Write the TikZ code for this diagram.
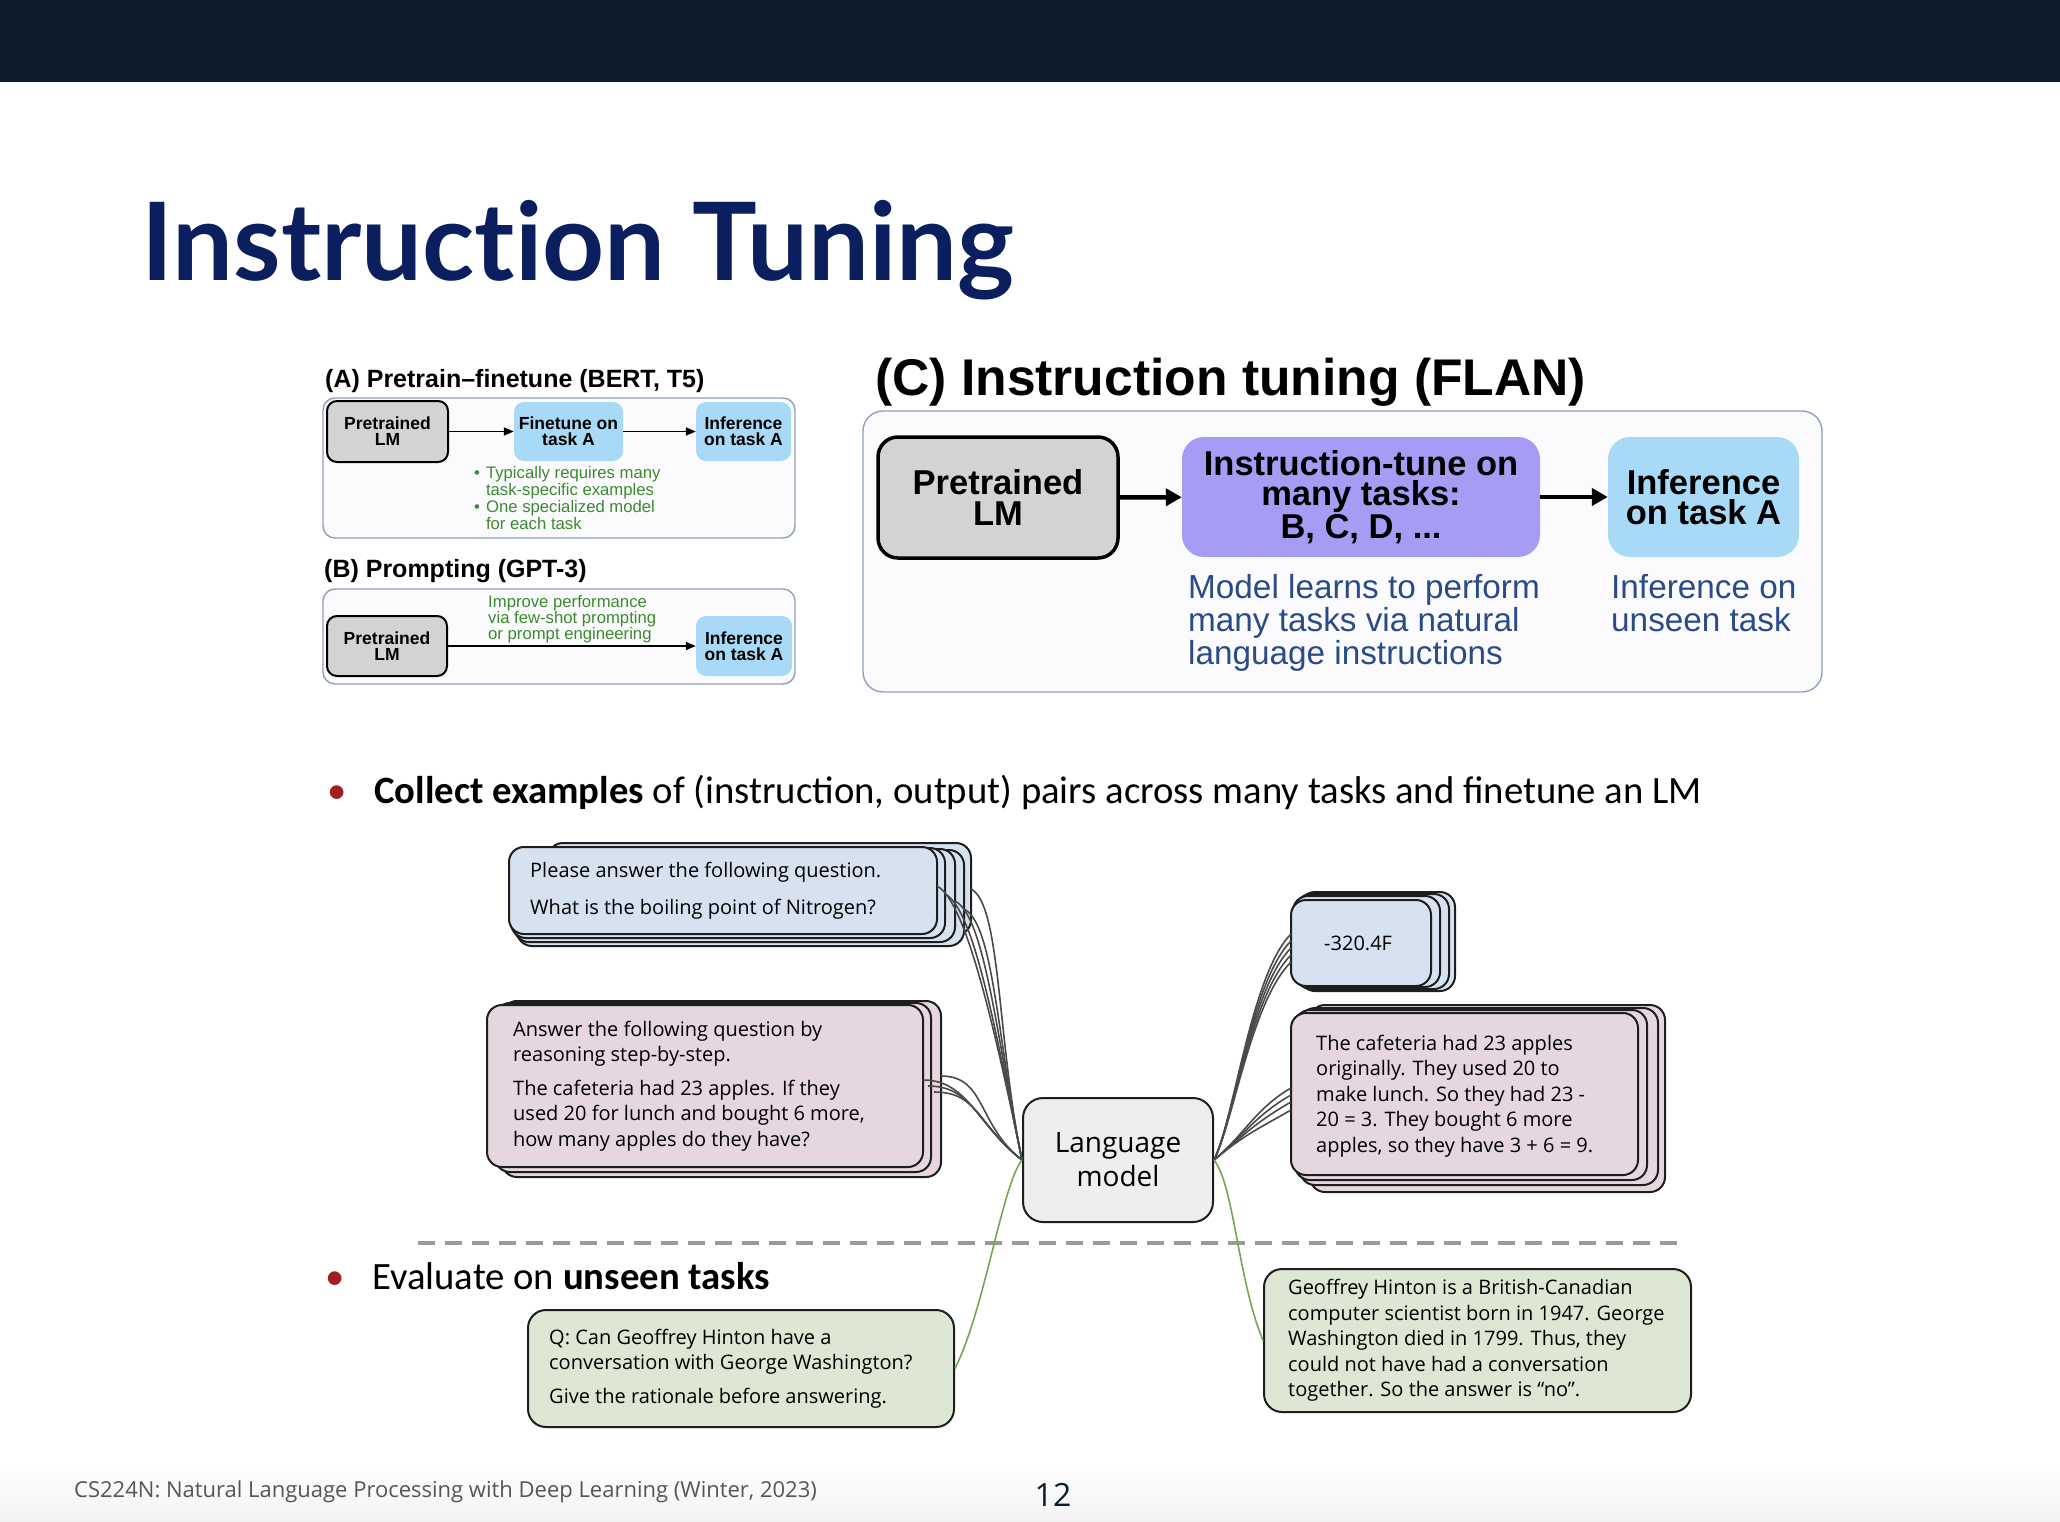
\documentclass[tikz,border=0pt]{standalone}
\usepackage{fontspec}
\usepackage{graphicx}
\setmainfont{Liberation Sans}
\newfontfamily\calib{Carlito}
\newfontfamily\exfont{Open Sans}
\newfontfamily\ttlfont[Ligatures=NoCommon]{Lato}
\usetikzlibrary{arrows.meta,calc}
\definecolor{hdr}{HTML}{0D1C2D}
\definecolor{titleblue}{HTML}{0B1F5E}
\definecolor{panelborder}{HTML}{8FA0BE}
\definecolor{panelfill}{HTML}{FBFBFE}
\definecolor{lmgray}{HTML}{D3D3D3}
\definecolor{taskblue}{HTML}{A8D9F6}
\definecolor{tunepurple}{HTML}{A79CF3}
\definecolor{noteblue}{HTML}{2A4B88}
\definecolor{notegreen}{HTML}{3B8A2E}
\definecolor{bulletred}{HTML}{A11F20}
\definecolor{inblue}{HTML}{D7E2F1}
\definecolor{inpink}{HTML}{E5D6DF}
\definecolor{ingreen}{HTML}{DEE7D4}
\definecolor{lmfill}{HTML}{EEEEEE}
\definecolor{wiregray}{HTML}{4A4A4A}
\definecolor{wiregreen}{HTML}{72A857}
\definecolor{dashgray}{HTML}{9A9A9A}
\definecolor{footgray}{HTML}{555555}
\definecolor{exborder}{HTML}{1E1E1E}
\begin{document}
\begin{tikzpicture}[x=1pt,y=-1pt,
  panel/.style={draw=panelborder, fill=panelfill, line width=1.4pt, rounded corners=12pt},
  smallgray/.style={draw=black, fill=lmgray, line width=2pt, rounded corners=10pt, inner sep=0pt, align=center, font=\bfseries\fontsize{17.5}{16}\selectfont},
  smallblue/.style={fill=taskblue, rounded corners=10pt, inner sep=0pt, align=center, font=\bfseries\fontsize{17.5}{16}\selectfont},
  biggray/.style={draw=black, fill=lmgray, line width=3.5pt, rounded corners=20pt, inner sep=0pt, align=center, font=\bfseries\fontsize{34.5}{30.5}\selectfont},
  bigfill/.style={rounded corners=22pt, inner sep=0pt, align=center, font=\bfseries\fontsize{34.5}{30.5}\selectfont},
  thinarrow/.style={-{Triangle[length=10pt,width=8pt]}, line width=1.8pt},
  thickarrow/.style={-{Triangle[length=16pt,width=17pt]}, line width=4.5pt},
  exbox/.style={draw=exborder, line width=2pt, rounded corners=15pt, inner sep=0pt},
  layer/.style={draw=exborder, line width=2pt, rounded corners=15pt},
  extext/.style={inner sep=0pt, align=left, font=\exfont\fontsize{20}{25.5}\selectfont},
  wire/.style={draw=wiregray, line width=1.6pt},
  greenwire/.style={draw=wiregreen, line width=1.6pt},
  headA/.style={inner sep=0pt, anchor=base west, font=\bfseries\fontsize{25}{30}\selectfont},
  greennote/.style={inner sep=0pt, anchor=north west, text=notegreen, align=left, font=\fontsize{16.7}{16}\selectfont},
  bluenote/.style={inner sep=0pt, anchor=north west, text=noteblue, align=left, font=\fontsize{33.3}{33}\selectfont},
  calibtext/.style={inner sep=0pt, anchor=base west, font=\calib\fontsize{38.7}{46}\selectfont},
  reddot/.style={inner sep=0pt, anchor=base, text=bulletred, font=\calib\fontsize{38.7}{46}\selectfont}
]
\useasboundingbox (0,0) rectangle (2060,1522);
\fill[white] (0,0) rectangle (2060,1522);
\shade[top color=white, bottom color=black!5] (0,1465) rectangle (2060,1522);
% header bar
\fill[hdr] (0,0) rectangle (2060,82);
% title
\node[inner sep=0pt, anchor=base west, text=titleblue] (title) at (141,280)
  {\resizebox{873pt}{!}{\ttlfont\bfseries Instruction Tuning}};

% ---------- Panel A ----------
\node[headA] (headA) at (325,387) {(A) Pretrain–finetune (BERT, T5)};
\draw[panel] (323,398) rectangle (795,538);
\node[smallgray, minimum width=121pt, minimum height=61pt] (preA) at (387.5,431.5) {Pretrained\\LM};
\node[smallblue, minimum width=109pt, minimum height=59pt] (ftA) at (568.5,431.5) {Finetune on\\task A};
\node[smallblue, minimum width=95pt, minimum height=59pt] (infA) at (743.5,431.5) {Inference\\on task A};
\draw[thinarrow] (preA) -- (ftA);
\draw[thinarrow] (ftA) -- (infA);
\node[greennote] (noteA) at (474,466) {%
  \begin{tabular}{@{}l@{\hspace{6pt}}l@{}}
  \textbullet & Typically requires many\\
   & task-specific examples\\
  \textbullet & One specialized model\\
   & for each task
  \end{tabular}};

% ---------- Panel B ----------
\node[headA] (headB) at (324,577) {(B) Prompting (GPT-3)};
\draw[panel] (323,589) rectangle (795,684);
\node[smallgray, minimum width=120pt, minimum height=60pt] (preB) at (387,646) {Pretrained\\LM};
\node[smallblue, minimum width=96pt, minimum height=60pt] (infB) at (744,646) {Inference\\on task A};
\draw[thinarrow] (preB) -- (infB);
\node[greennote] (noteB) at (488,595) {Improve performance\\via few-shot prompting\\or prompt engineering};

% ---------- Panel C ----------
\node[inner sep=0pt, anchor=base west, font=\bfseries\fontsize{51.6}{60}\selectfont] (headC) at (875,395) {(C) Instruction tuning (FLAN)};
\draw[panel, rounded corners=20pt] (863,411) rectangle (1822,692);
\node[biggray, minimum width=240pt, minimum height=121pt] (preC) at (998,497.5) {Pretrained\\LM};
\node[bigfill, fill=tunepurple, minimum width=358pt, minimum height=120pt] (tuneC) at (1361,497) {Instruction-tune on\\many tasks:\\B, C, D, ...};
\node[bigfill, fill=taskblue, minimum width=191pt, minimum height=120pt] (infC) at (1703.5,497) {Inference\\on task A};
\draw[thickarrow] (preC) -- (tuneC);
\draw[thickarrow] (tuneC) -- (infC);
\node[bluenote] (noteC1) at (1188,574) {Model learns to perform\\many tasks via natural\\language instructions};
\node[bluenote] (noteC2) at (1611,574) {Inference on\\unseen task};

% ---------- bullets ----------
\node[reddot] (dot1) at (337,803) {•};
\node[calibtext] (bullet1) at (374,803) {\textbf{Collect examples} of (instruction, output) pairs across many tasks and finetune an LM};
\node[reddot] (dot2) at (335,1289) {•};
\node[calibtext] (bullet2) at (372,1289) {Evaluate on \textbf{unseen tasks}};

% dashed separator
\coordinate (dl) at (418,1243);
\coordinate (dr) at (1686,1243);
\draw[dashgray, line width=4pt, dash pattern=on 17pt off 10pt] (dl) -- (dr);

% ---------- stacks: blue input ----------
\draw[layer, fill=inblue] (548,843) rectangle (971,935);
\draw[layer, fill=inblue] (517,850) rectangle (964,946);
\draw[layer, fill=inblue] (514,849) rectangle (955,942);
\draw[layer, fill=inblue] (511,848) rectangle (945,938);
\node[exbox, fill=inblue, minimum width=428pt, minimum height=87pt] (qa) at (723,890.5) {};
\node[extext, anchor=west] (qatext) at ($(qa.west)+(22,0)$) {Please answer the following question.\\[11pt]What is the boiling point of Nitrogen?};

% pink input
\draw[layer, fill=inpink] (502,1001) rectangle (941,1177);
\draw[layer, fill=inpink] (495,1003) rectangle (931,1172);
\node[exbox, fill=inpink, minimum width=436pt, minimum height=162pt] (qb) at (705,1086) {};
\node[extext, anchor=west] (qbtext) at ($(qb.west)+(27,0)$) {Answer the following question by\\reasoning step-by-step.\\[8pt]The cafeteria had 23 apples. If they\\used 20 for lunch and bought 6 more,\\how many apples do they have?};

% blue output
\draw[layer, fill=inblue] (1300,892) rectangle (1455,991);
\draw[layer, fill=inblue] (1296,894) rectangle (1449,989);
\draw[layer, fill=inblue] (1293,896) rectangle (1440,987);
\node[exbox, fill=inblue, minimum width=140pt, minimum height=86pt] (oa) at (1361,943) {};
\node[extext, anchor=west] (oatext) at ($(oa.west)+(34,0)$) {-320.4F};

% pink output
\draw[layer, fill=inpink] (1310,1005) rectangle (1665,1192);
\draw[layer, fill=inpink] (1300,1008) rectangle (1658,1185);
\draw[layer, fill=inpink] (1295,1010) rectangle (1647,1180);
\node[exbox, fill=inpink, minimum width=347pt, minimum height=162pt] (ob) at (1464.5,1094) {};
\node[extext, anchor=west] (obtext) at ($(ob.west)+(26,2)$) {The cafeteria had 23 apples\\originally. They used 20 to\\make lunch. So they had 23 -\\20 = 3. They bought 6 more\\apples, so they have 3 + 6 = 9.};

% green boxes
\node[exbox, fill=ingreen, rounded corners=18pt, minimum width=426pt, minimum height=117pt] (gq) at (741,1368.5) {};
\node[extext, anchor=west] (gqtext) at ($(gq.west)+(22,0)$) {Q: Can Geoffrey Hinton have a\\conversation with George Washington?\\[8pt]Give the rationale before answering.};
\node[exbox, fill=ingreen, rounded corners=18pt, minimum width=427pt, minimum height=143pt] (ga) at (1477.5,1340.5) {};
\node[extext, anchor=west] (gatext) at ($(ga.west)+(25,0)$) {Geoffrey Hinton is a British-Canadian\\computer scientist born in 1947. George\\Washington died in 1799. Thus, they\\could not have had a conversation\\together. So the answer is “no”.};

% language model
\node[draw=exborder, line width=2pt, fill=lmfill, rounded corners=20pt, minimum width=190pt, minimum height=124pt, inner sep=0pt, align=center, font=\exfont\fontsize{28}{34}\selectfont] (lm) at (1118,1160) {Language\\model};

% wire anchor points
\foreach \i/\sx/\sy in {1/937/886, 2/945/894, 3/955/901, 4/964/909, 5/971/889}
  \coordinate (qa\i) at (\sx,\sy);
\foreach \i/\sx/\sy in {1/923/1080, 2/928/1086, 3/934/1092, 4/941/1076}
  \coordinate (qb\i) at (\sx,\sy);
\foreach \i/\sy in {1/934, 2/941, 3/948, 4/955, 5/962}
  \coordinate (oa\i) at (1291,\sy);
\foreach \i/\sy in {1/1088, 2/1095, 3/1102, 4/1110}
  \coordinate (ob\i) at (1291,\sy);

\foreach \i in {1,...,5}
  \draw[wire] (qa\i) .. controls +(30,15) and +(-25,-120) .. (lm.west);
\foreach \i in {1,...,4}
  \draw[wire] (qb\i) .. controls +(45,0) and +(-45,-35) .. (lm.west);
\foreach \i in {1,...,5}
  \draw[wire] (lm.east) .. controls +(20,-40) and +(-40,40) .. (oa\i);
\foreach \i in {1,...,4}
  \draw[wire] (lm.east) .. controls +(30,-25) and +(-35,20) .. (ob\i);
\draw[greenwire] (lm.west) .. controls +(-20,25) and +(30,-60) .. (gq.east);
\draw[greenwire] (lm.east) .. controls +(20,25) and +(-25,-60) .. (ga.west);

% footer
\node[inner sep=0pt, anchor=base west, text=footgray, font=\exfont\fontsize{22}{26}\selectfont] (foot) at (74,1497) {CS224N: Natural Language Processing with Deep Learning (Winter, 2023)};
\node[inner sep=0pt, anchor=base, text=hdr, font=\exfont\fontsize{32}{36}\selectfont] (page) at (1053,1506) {12};
\end{tikzpicture}
\end{document}
